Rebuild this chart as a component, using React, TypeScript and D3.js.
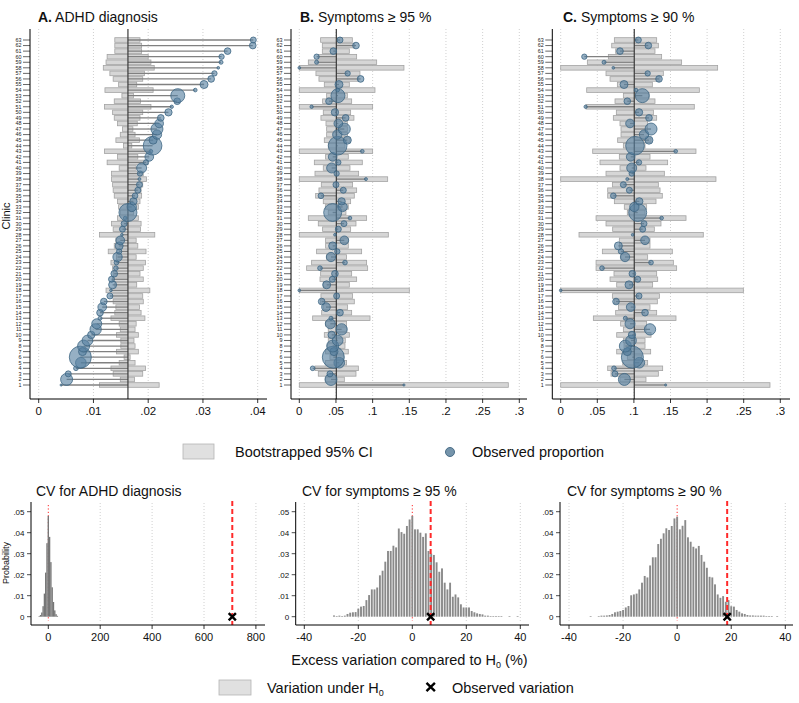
import React from 'react';
import * as d3 from 'd3';

const FONT = '"Liberation Sans", Arial, Helvetica, sans-serif';

// clinics 1..63 (bottom to top)
const clinicIds = d3.range(1, 64);

// relative clinic size (drives bubble area)
const clinicN = [
  18, 648, 162, 98, 512, 2178, 288, 648, 512, 242,
  578, 450, 72, 200, 338, 200, 162, 32, 288, 162,
  200, 98, 98, 392, 128, 288, 338, 32, 162, 162,
  60, 1458, 392, 242, 144, 162, 162, 40, 128, 450,
  128, 338, 60, 1568, 288, 392, 648, 338, 200, 242,
  50, 200, 882, 60, 288, 200, 128, 32, 72, 128,
  200, 200, 162,
];

// A. ADHD diagnosis
const adhdLo = [
  0.0111, 0.0149, 0.0136, 0.0132, 0.0147, 0.0156, 0.0142, 0.015, 0.015, 0.0142,
  0.0149, 0.0147, 0.0132, 0.0139, 0.0141, 0.0136, 0.0135, 0.0123, 0.0139, 0.0135,
  0.0136, 0.0135, 0.0132, 0.0142, 0.0127, 0.0138, 0.0141, 0.0111, 0.0136, 0.0133,
  0.0144, 0.0149, 0.0146, 0.0144, 0.0138, 0.0136, 0.0135, 0.0133, 0.0133, 0.0147,
  0.0125, 0.0144, 0.012, 0.0155, 0.0141, 0.0149, 0.0153, 0.0144, 0.0138, 0.0135,
  0.012, 0.0138, 0.0152, 0.0121, 0.0146, 0.0136, 0.013, 0.0118, 0.0123, 0.0125,
  0.0139, 0.0139, 0.0139,
];
const adhdHi = [
  0.022, 0.0175, 0.019, 0.0195, 0.0176, 0.0167, 0.0182, 0.0176, 0.0174, 0.0182,
  0.0176, 0.0178, 0.0194, 0.0187, 0.0184, 0.0191, 0.019, 0.0203, 0.0179, 0.0191,
  0.0185, 0.0191, 0.0195, 0.0178, 0.0196, 0.0181, 0.0178, 0.0212, 0.0186, 0.0187,
  0.0182, 0.0173, 0.0182, 0.0185, 0.0188, 0.0187, 0.019, 0.0197, 0.0191, 0.0178,
  0.0199, 0.0181, 0.0205, 0.017, 0.0184, 0.0176, 0.0172, 0.018, 0.0185, 0.019,
  0.0205, 0.0186, 0.0173, 0.0209, 0.0179, 0.019, 0.0193, 0.0211, 0.0205, 0.02,
  0.0188, 0.0188, 0.0185,
];
const adhdObs = [
  0.0041, 0.0051, 0.0054, 0.0068, 0.0077, 0.0076, 0.008, 0.0082, 0.0089, 0.0096,
  0.0104, 0.0106, 0.0112, 0.0112, 0.0116, 0.0119, 0.013, 0.0132, 0.0135, 0.0133,
  0.0138, 0.0141, 0.0142, 0.0144, 0.0147, 0.0147, 0.0149, 0.0152, 0.0153, 0.0156,
  0.0158, 0.0163, 0.017, 0.0173, 0.0176, 0.0181, 0.0184, 0.0184, 0.0185, 0.0188,
  0.0196, 0.0202, 0.0205, 0.0208, 0.0209, 0.0216, 0.0216, 0.022, 0.0223, 0.0237,
  0.0243, 0.0253, 0.0254, 0.0286, 0.0302, 0.0315, 0.0321, 0.0328, 0.0333, 0.0334,
  0.0345, 0.0391, 0.0392,
];

// B. Symptoms >= 95 %
const sym95Lo = [
  0, 0.0359, 0.0259, 0.0214, 0.0359, 0.0418, 0.0359, 0.0386, 0.0395, 0.0341,
  0.0395, 0.0359, 0.0182, 0.0305, 0.0327, 0.0291, 0.0295, 0, 0.0327, 0.0282,
  0.0291, 0.01, 0.0168, 0.0373, 0.0236, 0.0359, 0.0359, 0, 0.0318, 0.0259,
  0.0123, 0.0395, 0.0355, 0.0327, 0.0223, 0.0268, 0.03, 0, 0.0214, 0.0327,
  0.0205, 0.0359, 0, 0.0395, 0.0341, 0.0373, 0.0373, 0.0364, 0.0295, 0.0327,
  0, 0.0318, 0.0373, 0, 0.0341, 0.0268, 0.0227, 0, 0.0123, 0.0259,
  0.0314, 0.0314, 0.0291,
];
const sym95Hi = [
  0.285, 0.0614, 0.0773, 0.0805, 0.0645, 0.06, 0.0668, 0.0623, 0.0627, 0.0682,
  0.0645, 0.0645, 0.0964, 0.0714, 0.0659, 0.075, 0.0727, 0.15, 0.0682, 0.0782,
  0.0714, 0.0932, 0.0918, 0.0645, 0.085, 0.0668, 0.0668, 0.1214, 0.07, 0.0773,
  0.0918, 0.0636, 0.0668, 0.07, 0.075, 0.0782, 0.0727, 0.1205, 0.0809, 0.0691,
  0.0859, 0.0668, 0.1, 0.0623, 0.0691, 0.0655, 0.0655, 0.0655, 0.0745, 0.07,
  0.1, 0.0714, 0.0655, 0.1032, 0.0682, 0.0805, 0.0827, 0.1427, 0.1055, 0.0782,
  0.0682, 0.075, 0.0723,
];
const sym95Obs = [
  0.1427, 0.0432, 0.0418, 0.0182, 0.0545, 0.0464, 0.0473, 0.0455, 0.0523, 0.0441,
  0.0577, 0.0423, 0.0432, 0.0555, 0.0364, 0.0305, 0.0509, 0, 0.0373, 0.045,
  0.0486, 0.0282, 0.0623, 0.0432, 0.0518, 0.0455, 0.0614, 0.0486, 0.0532, 0.0609,
  0.0691, 0.0455, 0.0591, 0.0577, 0.0295, 0.06, 0.05, 0.0909, 0.0509, 0.0441,
  0.0532, 0.0455, 0.0859, 0.0523, 0.0655, 0.0518, 0.0614, 0.0532, 0.0632, 0.0486,
  0.0168, 0.0405, 0.0527, 0.0523, 0.0541, 0.0836, 0.0659, 0, 0.0236, 0.0236,
  0.0464, 0.0773, 0.0555,
];

// C. Symptoms >= 90 %
const sym90Lo = [
  0, 0.081, 0.0687, 0.0642, 0.0847, 0.091, 0.0765, 0.0865, 0.0856, 0.0765,
  0.0856, 0.0819, 0.0446, 0.0751, 0.0788, 0.0733, 0.0706, 0, 0.0765, 0.0674,
  0.0728, 0.0483, 0.0483, 0.0824, 0.0569, 0.0801, 0.0801, 0.025, 0.071, 0.0619,
  0.0483, 0.091, 0.0869, 0.0733, 0.0642, 0.0642, 0.0706, 0, 0.0619, 0.081,
  0.0537, 0.0801, 0.0437, 0.0856, 0.0778, 0.0824, 0.0824, 0.081, 0.0719, 0.076,
  0.0346, 0.0742, 0.0856, 0.0355, 0.0774, 0.0674, 0.0619, 0, 0.0364, 0.0651,
  0.0751, 0.0697, 0.0733,
];
const sym90Hi = [
  0.2859, 0.1165, 0.1334, 0.1393, 0.1188, 0.1106, 0.1229, 0.1152, 0.1152, 0.1234,
  0.1165, 0.1174, 0.1575, 0.1311, 0.122, 0.132, 0.1348, 0.2495, 0.1256, 0.1325,
  0.1311, 0.1584, 0.1539, 0.1188, 0.1525, 0.122, 0.122, 0.1948, 0.1279, 0.137,
  0.1712, 0.1152, 0.1174, 0.1302, 0.1388, 0.1357, 0.1334, 0.2121, 0.1416, 0.1165,
  0.1461, 0.122, 0.1848, 0.1152, 0.1234, 0.1197, 0.1184, 0.1188, 0.1311, 0.1266,
  0.1825, 0.1288, 0.1206, 0.1894, 0.1252, 0.1357, 0.1402, 0.2144, 0.1652, 0.1379,
  0.1288, 0.1334, 0.1311,
];
const sym90Obs = [
  0.1434, 0.087, 0.0742, 0.0728, 0.1074, 0.0979, 0.091, 0.0883, 0.0961, 0.0974,
  0.122, 0.0947, 0.0883, 0.1152, 0.0956, 0.0756, 0.107, 0, 0.0933, 0.1052,
  0.0979, 0.0564, 0.1234, 0.0879, 0.0824, 0.0788, 0.1152, 0.0983, 0.112, 0.1138,
  0.1379, 0.1052, 0.1006, 0.1074, 0.0719, 0.0938, 0.0856, 0.091, 0.097, 0.097,
  0.107, 0.0956, 0.1571, 0.1015, 0.1206, 0.1138, 0.1234, 0.0947, 0.1206, 0.107,
  0.0341, 0.091, 0.1115, 0.1029, 0.0865, 0.1343, 0.1188, 0.0719, 0.0592, 0.0323,
  0.081, 0.1197, 0.1061,
];

const overallRates = [0.0163, 0.0505, 0.1005];
const adhdTicks = [0, 0.01, 0.02, 0.03, 0.04];
const symTicks = [0, 0.05, 0.1, 0.15, 0.2, 0.25, 0.3];

// CV histograms (excess variation, %)
const cvAdhdBins = [-35, -30, -25, -20, -15, -10, -5, 0, 5, 10, 15, 20, 25, 30, 35];
const cvAdhdProb = [0.0003, 0.0008, 0.002, 0.005, 0.011, 0.021, 0.035, 0.048, 0.038, 0.026, 0.014, 0.007, 0.003, 0.0012, 0.0004];

const cv95Bins = d3.range(-29, 40);
const cv95Prob = [
  0.0006, 0.0003, 0.0005, 0.0003, 0.0005, 0.0013, 0.0019, 0.0021, 0.0022, 0.0038,
  0.0048, 0.0051, 0.0079, 0.0103, 0.013, 0.013, 0.0139, 0.0197, 0.0219, 0.0262,
  0.0313, 0.0313, 0.0338, 0.033, 0.042, 0.0403, 0.0395, 0.0432, 0.0463, 0.048,
  0.0416, 0.0416, 0.04, 0.038, 0.0397, 0.0313, 0.03, 0.0294, 0.0259, 0.0214,
  0.023, 0.0162, 0.013, 0.0162, 0.0095, 0.0106, 0.0092, 0.0059, 0.0044, 0.0044,
  0.0044, 0.0027, 0.0021, 0.0016, 0.0013, 0.0011, 0.0005, 0.0005, 0.0003, 0.0003,
  0.0003, 0.0003, 0.0003, 0, 0, 0.0003, 0, 0, 0.0003,
];

const cv90Bins = d3.range(-32, 38);
const cv90Prob = [
  0.0003, 0, 0, 0.0003, 0.0005, 0.0005, 0.0006, 0.0008, 0.0013, 0.0021,
  0.0024, 0.0027, 0.0032, 0.0044, 0.0051, 0.0102, 0.0106, 0.011, 0.013, 0.0162,
  0.0194, 0.0187, 0.0244, 0.0283, 0.0283, 0.0346, 0.0371, 0.0397, 0.0421, 0.0413,
  0.0432, 0.0468, 0.0476, 0.0416, 0.0433, 0.046, 0.0378, 0.0357, 0.0333, 0.0325,
  0.0337, 0.0294, 0.0262, 0.0233, 0.019, 0.0187, 0.0154, 0.0106, 0.009, 0.0098,
  0.0071, 0.0079, 0.005, 0.0048, 0.0032, 0.0024, 0.0016, 0.0013, 0.0008, 0.0006,
  0.0006, 0.0005, 0.0005, 0.0005, 0.0005, 0.0003, 0.0003, 0.0003, 0, 0.0003,
];

const cvObserved = [709, 6.8, 18.5];
const cvAdhdTicks = [0, 200, 400, 600, 800];
const cvSymTicks = [-40, -20, 0, 20, 40];
const probTicks = [0, 0.01, 0.02, 0.03, 0.04, 0.05];

const fmt = (d: number) => (d === 0 ? '0' : String(+d.toFixed(4)).replace(/^0\./, '.').replace(/^-0\./, '-.'));

const BAR_FILL = '#d6d6d6';
const BAR_STROKE = '#a3a3a3';
const DOT_FILL = '#55809f';
const DOT_STROKE = '#3d6683';

const rScale = d3.scaleSqrt().domain([0, d3.max(clinicN) as number]).range([0, 11]);
const yRow = d3.scaleLinear().domain([1, 63]).range([385, 40]);

// bold cross marker
const Cross: React.FC<{ cx: number; cy: number; s?: number }> = ({ cx, cy, s = 3.6 }) => (
  <path d={`M${cx - s},${cy - s}L${cx + s},${cy + s}M${cx - s},${cy + s}L${cx + s},${cy - s}`} stroke="#000" strokeWidth={2.4} fill="none" />
);

interface TopProps {
  letter: string;
  title: string;
  lo: number[];
  hi: number[];
  obs: number[];
  refRate: number;
  ticks: number[];
  domain: [number, number];
  range: [number, number];
  axisX: number;
  rightX: number;
  titleX: number;
  showLabel?: boolean;
}

const TopPanel: React.FC<TopProps> = ({ letter, title, lo, hi, obs, refRate, ticks, domain, range, axisX, rightX, titleX, showLabel }) => {
  const x = d3.scaleLinear().domain(domain).range(range);
  const yTop = 29;
  const yBot = 399;
  const barH = 4.6;
  return (
    <g>
      <text x={titleX} y={22} fontSize={14} fontFamily={FONT} fill="#111">
        <tspan fontWeight="bold">{letter}</tspan>
        {title}
      </text>
      {ticks.map(t => (
        <line key={'g' + t} x1={x(t)} x2={x(t)} y1={yTop} y2={yBot} stroke="#c4c4c4" strokeWidth={0.8} strokeDasharray="1,2" />
      ))}
      {clinicIds.map((c, i) => (
        <rect key={'b' + c} x={x(lo[i])} y={yRow(c) - barH / 2} width={x(hi[i]) - x(lo[i])} height={barH}
          fill={BAR_FILL} stroke={BAR_STROKE} strokeWidth={0.8} />
      ))}
      {clinicIds.map((c, i) => (
        <line key={'l' + c} x1={x(refRate)} x2={x(obs[i])} y1={yRow(c)} y2={yRow(c)} stroke="#808080" strokeWidth={1.3} />
      ))}
      <line x1={x(refRate)} x2={x(refRate)} y1={yTop} y2={yBot} stroke="#3a3a3a" strokeWidth={1.2} />
      {clinicIds.map((c, i) => (
        <circle key={'c' + c} cx={x(obs[i])} cy={yRow(c)} r={Math.max(1.1, rScale(clinicN[i]))}
          fill={DOT_FILL} fillOpacity={0.62} stroke={DOT_STROKE} strokeWidth={0.8} />
      ))}
      {/* y axis */}
      <line x1={axisX} x2={axisX} y1={yTop} y2={yBot} stroke="#000" strokeWidth={1} />
      {clinicIds.map(c => (
        <g key={'yt' + c}>
          <line x1={axisX - 7} x2={axisX} y1={yRow(c)} y2={yRow(c)} stroke="#000" strokeWidth={0.6} />
          <text x={axisX - 8.5} y={yRow(c) + 1.9} fontSize={5.4} textAnchor="end" fontFamily={FONT} fill="#222">{c}</text>
        </g>
      ))}
      {/* x axis */}
      <line x1={axisX} x2={rightX} y1={yBot} y2={yBot} stroke="#000" strokeWidth={1} />
      {ticks.map(t => (
        <g key={'xt' + t}>
          <line x1={x(t)} x2={x(t)} y1={yBot} y2={yBot + 4} stroke="#000" strokeWidth={0.8} />
          <text x={x(t)} y={415} fontSize={11.5} textAnchor="middle" fontFamily={FONT} fill="#111">{fmt(t)}</text>
        </g>
      ))}
      {showLabel && (
        <text transform={`translate(10,216) rotate(-90)`} fontSize={11} textAnchor="middle" fontFamily={FONT} fill="#111">Clinic</text>
      )}
    </g>
  );
};

interface BottomProps {
  title: string;
  bins: number[];
  prob: number[];
  binWidth: number;
  barFrac: number;
  fill: string;
  observed: number;
  ticks: number[];
  domain: [number, number];
  range: [number, number];
  axisX: number;
  rightX: number;
  titleX: number;
  showLabel?: boolean;
}

const BottomPanel: React.FC<BottomProps> = ({ title, bins, prob, binWidth, barFrac, fill, observed, ticks, domain, range, axisX, rightX, titleX, showLabel }) => {
  const x = d3.scaleLinear().domain(domain).range(range);
  const y = d3.scaleLinear().domain([0, 0.05]).range([616.7, 511.7]);
  const yTop = 502;
  const yBot = 625;
  return (
    <g>
      <text x={titleX} y={496} fontSize={14} fontFamily={FONT} fill="#111">{title}</text>
      {ticks.filter(t => t !== 0).map(t => (
        <line key={'g' + t} x1={x(t)} x2={x(t)} y1={yTop + 1} y2={yBot - 3} stroke="#c4c4c4" strokeWidth={0.8} strokeDasharray="1,2" />
      ))}
      <line x1={x(0)} x2={x(0)} y1={505} y2={621} stroke="#ff2a2a" strokeWidth={1} strokeDasharray="1.2,2.2" />
      {bins.map((b, i) => {
        const x0 = x(b - (binWidth * barFrac) / 2);
        const x1 = x(b + (binWidth * barFrac) / 2);
        const h = y(0) - y(prob[i]);
        return prob[i] > 0 ? (
          <rect key={'h' + b} x={x0} y={y(prob[i])} width={Math.max(0.6, x1 - x0)} height={Math.max(0.6, h)} fill={fill} />
        ) : null;
      })}
      <line x1={x(observed)} x2={x(observed)} y1={501} y2={yBot} stroke="#ff2a2a" strokeWidth={2} strokeDasharray="5,3" />
      <Cross cx={x(observed)} cy={y(0)} />
      {/* axes */}
      <line x1={axisX} x2={axisX} y1={yTop} y2={yBot} stroke="#000" strokeWidth={1} />
      {probTicks.map(t => (
        <g key={'yt' + t}>
          <line x1={axisX - 4} x2={axisX} y1={y(t)} y2={y(t)} stroke="#000" strokeWidth={0.7} />
          <text x={axisX - 6.5} y={y(t) + 2.8} fontSize={8} textAnchor="end" fontFamily={FONT} fill="#111">{fmt(t)}</text>
        </g>
      ))}
      <line x1={axisX} x2={rightX} y1={yBot} y2={yBot} stroke="#000" strokeWidth={1} />
      {ticks.map(t => (
        <g key={'xt' + t}>
          <line x1={x(t)} x2={x(t)} y1={yBot} y2={yBot + 4} stroke="#000" strokeWidth={0.8} />
          <text x={x(t)} y={641} fontSize={11} textAnchor="middle" fontFamily={FONT} fill="#111">{t}</text>
        </g>
      ))}
      {showLabel && (
        <text transform={`translate(9,563) rotate(-90)`} fontSize={9} textAnchor="middle" fontFamily={FONT} fill="#111">Probability</text>
      )}
    </g>
  );
};

const App: React.FC = () => {
  return (
    <svg width={799} height={703} style={{ position: 'absolute', left: 0, top: 0, background: '#fff' }}>
      <rect width={799} height={703} fill="#fff" />
      <TopPanel letter="A." title=" ADHD diagnosis" lo={adhdLo} hi={adhdHi} obs={adhdObs} refRate={overallRates[0]}
        ticks={adhdTicks} domain={[0, 0.04]} range={[38.7, 257.7]} axisX={30} rightX={267} titleX={38} showLabel />
      <TopPanel letter="B." title=" Symptoms ≥ 95 %" lo={sym95Lo} hi={sym95Hi} obs={sym95Obs} refRate={overallRates[1]}
        ticks={symTicks} domain={[0, 0.3]} range={[299.3, 519.3]} axisX={291} rightX={527} titleX={300} />
      <TopPanel letter="C." title=" Symptoms ≥ 90 %" lo={sym90Lo} hi={sym90Hi} obs={sym90Obs} refRate={overallRates[2]}
        ticks={symTicks} domain={[0, 0.3]} range={[560.7, 780.3]} axisX={552.3} rightX={790} titleX={563} />

      {/* legend 1 */}
      <rect x={183} y={444} width={31} height={15} fill="#e0e0e0" stroke="#b5b5b5" strokeWidth={0.8} />
      <text x={235} y={457} fontSize={14.5} fontFamily={FONT} fill="#111">Bootstrapped 95% CI</text>
      <circle cx={450} cy={452} r={4.5} fill="#7594ab" stroke="#4a6d87" strokeWidth={1} />
      <text x={472} y={457} fontSize={14.5} fontFamily={FONT} fill="#111">Observed proportion</text>

      <BottomPanel title="CV for ADHD diagnosis" bins={cvAdhdBins} prob={cvAdhdProb} binWidth={5} barFrac={1.05} fill="#767676"
        observed={cvObserved[0]} ticks={cvAdhdTicks} domain={[0, 800]} range={[48.3, 255.9]} axisX={31} rightX={265} titleX={36} showLabel />
      <BottomPanel title="CV for symptoms ≥ 95 %" bins={cv95Bins} prob={cv95Prob} binWidth={1} barFrac={0.7} fill="#8a8a8a"
        observed={cvObserved[1]} ticks={cvSymTicks} domain={[-40, 40]} range={[304.3, 520.3]} axisX={295.7} rightX={529} titleX={302} />
      <BottomPanel title="CV for symptoms ≥ 90 %" bins={cv90Bins} prob={cv90Prob} binWidth={1} barFrac={0.7} fill="#8a8a8a"
        observed={cvObserved[2]} ticks={cvSymTicks} domain={[-40, 40]} range={[569, 785.3]} axisX={560} rightX={793} titleX={567} />

      <text x={409.5} y={665} fontSize={14.5} textAnchor="middle" fontFamily={FONT} fill="#111">
        Excess variation compared to H<tspan fontSize={9} dy={3}>0</tspan><tspan dy={-3}> (%)</tspan>
      </text>

      {/* legend 2 */}
      <rect x={219} y={680} width={32} height={15} fill="#e0e0e0" stroke="#b5b5b5" strokeWidth={0.8} />
      <text x={267} y={692.5} fontSize={14.5} fontFamily={FONT} fill="#111">
        Variation under H<tspan fontSize={9} dy={3}>0</tspan>
      </text>
      <Cross cx={430.7} cy={687} s={4.2} />
      <text x={452} y={692.5} fontSize={14.5} fontFamily={FONT} fill="#111">Observed variation</text>
    </svg>
  );
};

export default App;
